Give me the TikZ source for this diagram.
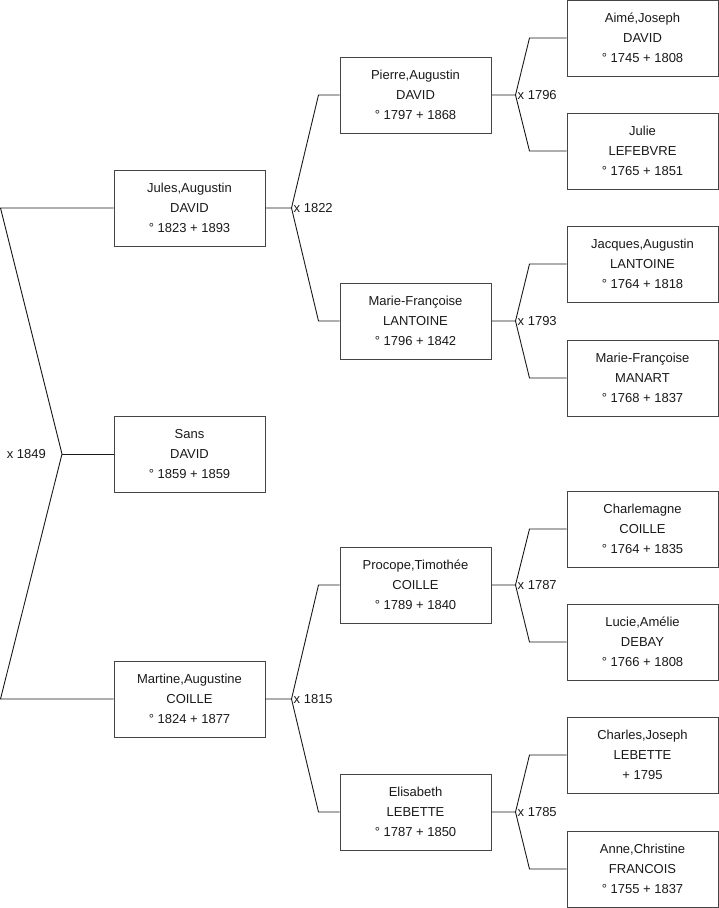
\documentclass[tikz,border=0pt]{standalone}
\usepackage{fontspec}
\setmainfont{Liberation Sans}
\usetikzlibrary{calc}
\definecolor{ink}{HTML}{1A1A1A}
\definecolor{frame}{HTML}{454545}
\tikzset{
  every node/.style={font=\fontsize{13}{20}\selectfont,text=ink},
  person/.style={draw=frame,line width=1pt,fill=white,minimum width=151pt,minimum height=76pt,align=center,inner sep=0pt},
  link/.style={draw=ink,line width=0.9pt},
  marr/.style={inner sep=2pt},
}

\begin{document}
\begin{tikzpicture}[x=1pt,y=-1pt]
  \useasboundingbox (0,0) rectangle (719,908);

  % generation 1
  \node[person] (jules)   at (189.5,208) {Jules,Augustin\\DAVID\\° 1823 + 1893};
  \node[person] (sans)    at (189.5,454) {Sans\\DAVID\\° 1859 + 1859};
  \node[person] (martine) at (189.5,699) {Martine,Augustine\\COILLE\\° 1824 + 1877};

  % generation 2
  \node[person] (pierre)     at (415.5,95)  {Pierre,Augustin\\DAVID\\° 1797 + 1868};
  \node[person] (mfrancoise) at (415.5,321) {Marie-Françoise\\LANTOINE\\° 1796 + 1842};
  \node[person] (procope)    at (415.5,585) {Procope,Timothée\\COILLE\\° 1789 + 1840};
  \node[person] (elisabeth)  at (415.5,812) {Elisabeth\\LEBETTE\\° 1787 + 1850};

  % generation 3
  \node[person] (aime)        at (642.5,38)  {Aimé,Joseph\\DAVID\\° 1745 + 1808};
  \node[person] (julie)       at (642.5,151) {Julie\\LEFEBVRE\\° 1765 + 1851};
  \node[person] (jacques)     at (642.5,264) {Jacques,Augustin\\LANTOINE\\° 1764 + 1818};
  \node[person] (manart)      at (642.5,378) {Marie-Françoise\\MANART\\° 1768 + 1837};
  \node[person] (charlemagne) at (642.5,529) {Charlemagne\\COILLE\\° 1764 + 1835};
  \node[person] (lucie)       at (642.5,642) {Lucie,Amélie\\DEBAY\\° 1766 + 1808};
  \node[person] (charles)     at (642.5,755) {Charles,Joseph\\LEBETTE\\+ 1795};
  \node[person] (anne)        at (642.5,869) {Anne,Christine\\FRANCOIS\\° 1755 + 1837};

  % marriages to the right
  \foreach \p/\a/\b/\yr/\t/\s in {jules/pierre/mfrancoise/1822/26/21, martine/procope/elisabeth/1815/26/21,
      pierre/aime/julie/1796/24/37, mfrancoise/jacques/manart/1793/24/37,
      procope/charlemagne/lucie/1787/24/37, elisabeth/charles/anne/1785/24/37} {
    \coordinate (k) at ([xshift=\t pt]\p.east);
    \draw[link] (\p.east) -- (k) -- ([xshift=-\s pt]\a.west) -- (\a.west);
    \draw[link] (k) -- ([xshift=-\s pt]\b.west) -- (\b.west);
    \node[marr,anchor=west] (m\yr) at (k) {x \yr};
  }

  % root marriage
  \coordinate (k1849) at (sans.west -| 62,0);
  \draw[link] (jules.west) -- (jules.west -| 0.5,0) -- (k1849) -- (martine.west -| 0.5,0) -- (martine.west);
  \draw[link] (k1849) -- (sans.west);
  \node[marr,anchor=east,xshift=-14pt] (m1849) at (k1849) {x 1849};
\end{tikzpicture}
\end{document}
